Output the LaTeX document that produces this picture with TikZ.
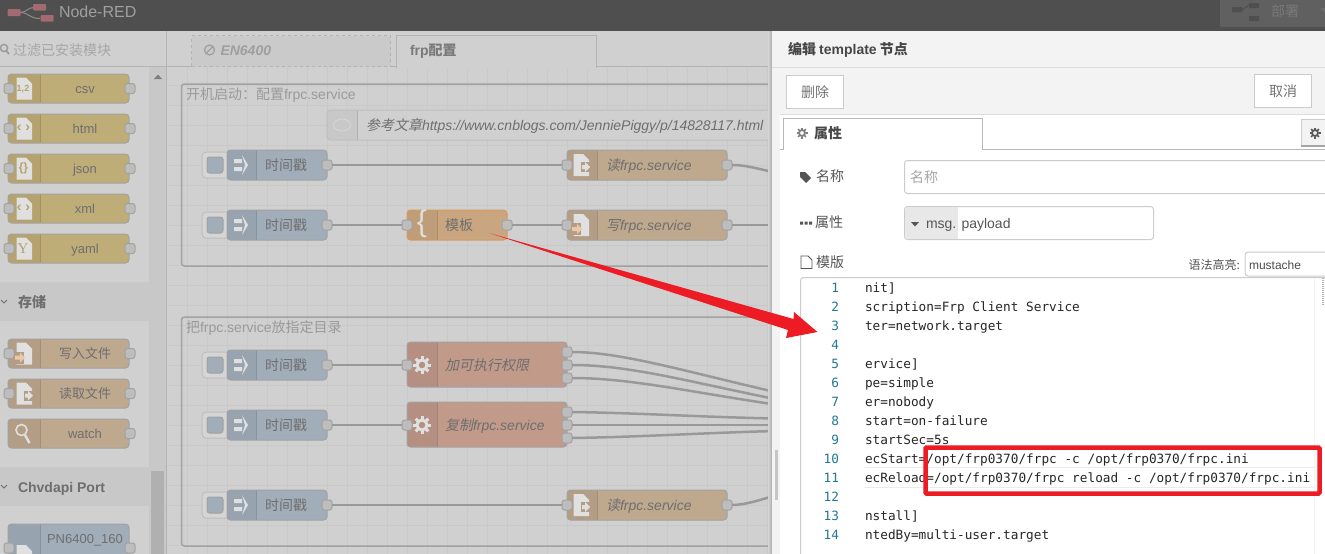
\documentclass[tikz,border=0pt]{standalone}
\usepackage{fontspec}
\setmainfont{Liberation Sans}
\newfontfamily\cjk{Noto Sans CJK SC}
\newfontfamily\cjki[FakeSlant=0.2]{Noto Sans CJK SC}
\newfontfamily\codef{DejaVu Sans Mono}
\newfontfamily\yser{Liberation Serif}
\definecolor{dimtext}{HTML}{6E6E6E}
\definecolor{canvasbg}{HTML}{D0D0D0}
\definecolor{gridc}{HTML}{C9C9C9}
\definecolor{headbg}{HTML}{4F4F4F}
\definecolor{catbg}{HTML}{C8C8C8}
\definecolor{linec}{HTML}{B4B4B4}
\definecolor{bordc}{HTML}{A2A2A2}
\definecolor{wirec}{HTML}{999999}
\definecolor{portc}{HTML}{BDBDBD}
\definecolor{yellowc}{HTML}{BFAD77}
\definecolor{yellowd}{HTML}{B5A26E}
\definecolor{tanc}{HTML}{BEA88E}
\definecolor{tand}{HTML}{B39D84}
\definecolor{bluec}{HTML}{A1ADB9}
\definecolor{blued}{HTML}{97A3AF}
\definecolor{salmc}{HTML}{C19A8A}
\definecolor{salmd}{HTML}{B59082}
\definecolor{orc}{HTML}{C9A67F}
\definecolor{ord}{HTML}{BE9D78}
\definecolor{orb}{HTML}{D99A5B}
\definecolor{iconc}{HTML}{E0E0E0}
\definecolor{redc}{HTML}{ED1C24}
\definecolor{numc}{HTML}{237893}
\definecolor{paneline}{HTML}{DDDDDD}
\definecolor{fieldline}{HTML}{CCCCCC}
\definecolor{paneltext}{HTML}{555555}
\definecolor{panelbg}{HTML}{F3F3F3}
\definecolor{logoc}{HTML}{A36A6F}
\definecolor{thumbc}{HTML}{B0B0B0}
\newcommand{\fsz}[1]{\fontsize{#1}{#1}\selectfont}
\tikzset{
  x=1pt,y=-1pt,
  every node/.style={inner sep=0pt,outer sep=0pt},
  tx/.style={text height=10pt,text depth=0pt},
  flow/.style={rounded corners=3.5pt,anchor=north west},
  portn/.style={draw=bordc,fill=portc,line width=1pt,rounded corners=2.5pt,minimum size=10pt},
  lab/.style={tx,text=dimtext,font=\fsz{14}},
  plab/.style={tx,text=dimtext,font=\fsz{13}},
  labl/.style={lab,anchor=west},
  grpframe/.style={draw=bordc,line width=1.5pt,rounded corners=3pt},
  wire/.style={draw=wirec,line width=2.5pt},
  grpl/.style={tx,anchor=west,text=bordc!95!black,font=\fsz{14}},
  fieldbox/.style={draw=fieldline,line width=1pt,fill=white,rounded corners=3pt},
  btn/.style={tx,draw=fieldline,line width=1pt,fill=white,anchor=north west,text=gray!90!black,font=\fsz{14}},
  codeline/.style={anchor=west,text height=11pt,text depth=0pt,text=black!85,font=\codef\fsz{12.75}},
  numline/.style={anchor=east,text height=11pt,text depth=0pt,text=numc,font=\codef\fsz{12.75}},
  ptxt/.style={tx,anchor=west,text=paneltext,font=\fsz{14}},
}
\newcommand{\fnode}[8]{%
  \node[flow,fill=#5,minimum width=#3pt,minimum height=#4pt] (#1) at (#2) {};
  \begin{scope}
    \clip [rounded corners=3.5pt] (#1.north west) rectangle (#1.south east);
    \fill[#6] (#1.north west) rectangle ([xshift=#7pt]#1.south west);
  \end{scope}
  \draw[black!15!#5,line width=.8pt] ([xshift=#7pt]#1.north west) -- ([xshift=#7pt]#1.south west);
  \draw[#8,line width=1pt,rounded corners=3.5pt] (#1.north west) rectangle (#1.south east);
}
\newcommand{\icdoc}[2]{\fill[iconc] (#1-7.5,#2-11) -- (#1+2,#2-11) -- (#1+8,#2-5) -- (#1+8,#2+11) -- (#1-7.5,#2+11) -- cycle;}
\newcommand{\icinject}[2]{%
  \fill[iconc] (#1-7,#2-6) -- (#1+1,#2-6) -- (#1+1,#2-2) -- (#1-7,#2-2) -- cycle (#1-7,#2+2) -- (#1+1,#2+2) -- (#1+1,#2+6) -- (#1-7,#2+6) -- cycle;
  \fill[iconc] (#1+1,#2-10) -- (#1+7,#2) -- (#1+1,#2+10) -- (#1+4,#2) -- cycle;}
\newcommand{\icgear}[2]{%
  \draw[iconc,line width=3pt] (#1,#2) circle (5);
  \foreach \a in {0,45,...,315} {\draw[iconc,line width=3pt] ([shift={(\a:6)}]#1,#2) -- ([shift={(\a:9)}]#1,#2);}}
\newcommand{\icsmallgear}[3]{%
  \draw[#3,line width=1.8pt] (#1,#2) circle (3);
  \foreach \a in {0,45,...,315} {\draw[#3,line width=1.5pt] ([shift={(\a:3.5)}]#1,#2) -- ([shift={(\a:5.5)}]#1,#2);}}
\newcommand{\icread}[3]{\icdoc{#1}{#2}\fill[#3] (#1,#2-3) rectangle (#1+9,#2+7);\fill[iconc] (#1+1,#2) -- (#1+4,#2) -- (#1+4,#2-3) -- (#1+9,#2+2) -- (#1+4,#2+7) -- (#1+4,#2+4) -- (#1+1,#2+4) -- cycle;}
\newcommand{\icwrite}[3]{\icdoc{#1}{#2}\fill[#3] (#1-10,#2-2) rectangle (#1,#2+10);\fill[iconc!75!orange] (#1-9,#2+2) -- (#1-4,#2+2) -- (#1-4,#2-1) -- (#1+1,#2+4) -- (#1-4,#2+9) -- (#1-4,#2+6) -- (#1-9,#2+6) -- cycle;}
\newcommand{\injnode}[2]{%
  \node[draw=bordc!70!white,fill=canvasbg!90!white,line width=1pt,rounded corners=4pt,minimum width=30pt,minimum height=26pt,anchor=west] (#1-btn) at (202,#2) {};
  \node[draw=bordc,fill=bluec,line width=1pt,rounded corners=2.5pt,minimum size=16pt] (#1-sq) at (215,#2) {};
  \fnode{#1}{227,#2-15}{100}{30}{bluec}{blued}{29}{bordc}
  \icinject{241}{#2}
  \node[lab] (#1-t) at (286,#2) {\cjk 时间戳};
  \node[portn] (#1-o) at (327,#2) {};
}
\newcommand{\palnode}[5]{%
  \fnode{#1}{8,#2-14.5}{121}{29}{#3}{#4}{32}{bordc}
  \node[plab] (#1-t) at (85,#2) {#5};
  \node[portn] (#1-o) at (130,#2) {};
}
\newcommand{\fileflow}[3]{%
  \fnode{#1}{567,#2-15}{160}{30}{tanc}{tand}{30}{bordc}
  \node[labl,font=\itshape\fsz{14}] (#1-t) at (606,#2) {#3};
  \node[portn] (#1-i) at (567,#2) {};
  \node[portn] (#1-o) at (727,#2) {};
}
\begin{document}
\begin{tikzpicture}
\useasboundingbox (0,0) rectangle (1325,554);
\fill[canvasbg] (0,0) rectangle (1325,554);
% ---------- canvas
\begin{scope}
  \clip (167,67) rectangle (771,554);
  \foreach \gx in {187,207,...,767} {\draw[gridc,line width=.8pt] (\gx,67) -- (\gx,554);}
  \foreach \gy in {85,105,...,545} {\draw[gridc,line width=.8pt] (167,\gy) -- (771,\gy);}
  \draw[grpframe] (181.5,84) rectangle (800,266);
  \node[grpl] (g1t) at (186,94) {{\cjk 开机启动：配置}frpc.service};
  \draw[grpframe] (181.5,317) rectangle (800,546);
  \node[grpl] (g2t) at (186,327) {{\cjk 把}frpc.service{\cjk 放指定目录}};
  % comment
  \fnode{cmt}{327,110}{470}{30}{canvasbg}{canvasbg!96!black}{30}{bordc!70!white}
  \draw[iconc!90!gray,line width=.9pt] (342,125) ellipse (8.5 and 6);
  \node[lab,anchor=west,font=\itshape\fsz{14}] (cmt-t) at (366,125) {{\cjki 参考文章}https://www.cnblogs.com/JenniePiggy/p/14828117.html};
  % row 1
  \injnode{i1}{165}
  \fileflow{r1}{165}{{\cjki 读}frpc.service}
  \icread{581}{165}{tand}
  % row 2
  \injnode{i2}{225}
  \fnode{tpl}{407,210}{100}{30}{orc}{ord}{30}{orb}
  \node[text=iconc,font=\fsz{30}] (tpl-ic) at (422,224) {\{};
  \node[labl] (tpl-t) at (445,225) {\cjk 模板};
  \node[portn] (tpl-i) at (407,225) {};
  \node[portn] (tpl-o) at (507,225) {};
  \fileflow{w1}{225}{{\cjki 写}frpc.service}
  \icwrite{581}{225}{tand}
  % exec nodes
  \injnode{i3}{365}
  \fnode{ex1}{407,342}{160}{45}{salmc}{salmd}{30}{bordc}
  \icgear{422}{365}
  \node[labl,font=\cjki\fsz{14}] (ex1-t) at (445,365) {加可执行权限};
  \node[portn] (ex1-i) at (407,365) {};
  \node[portn] (ex1-a) at (567,352) {};
  \node[portn] (ex1-b) at (567,365) {};
  \node[portn] (ex1-c) at (567,378) {};
  \injnode{i4}{425}
  \fnode{ex2}{407,402}{160}{45}{salmc}{salmd}{30}{bordc}
  \icgear{422}{425}
  \node[labl,font=\itshape\fsz{14}] (ex2-t) at (445,425) {{\cjki 复制}frpc.service};
  \node[portn] (ex2-i) at (407,425) {};
  \node[portn] (ex2-a) at (567,412) {};
  \node[portn] (ex2-b) at (567,425) {};
  \node[portn] (ex2-c) at (567,438) {};
  % row bottom
  \injnode{i5}{505}
  \fileflow{r2}{505}{{\cjki 读}frpc.service}
  \icread{581}{505}{tand}
  % free ends
  \coordinate (e1) at (775,172.5);
  \coordinate (e2) at (775,225);
  \coordinate (e3) at (775,392);
  \coordinate (e4) at (775,399);
  \coordinate (e5) at (775,404.5);
  \coordinate (e6) at (775,418.5);
  \coordinate (e7) at (775,425);
  \coordinate (e8) at (775,431);
  \coordinate (e9) at (775,495.5);
  % wires
  \draw[wire] (i1-o.east) -- (r1-i.west);
  \draw[wire] (i2-o.east) -- (tpl-i.west);
  \draw[wire] (tpl-o.east) -- (w1-i.west);
  \draw[wire] (i5-o.east) -- (r2-i.west);
  \draw[wire] (r1-o.east) .. controls (745,165) and (755,168) .. (e1);
  \draw[wire] (w1-o.east) -- (e2);
  \draw[wire] (ex1-a.east) .. controls (620,352) and (680,370) .. (e3);
  \draw[wire] (ex1-b.east) .. controls (630,365) and (690,382) .. (e4);
  \draw[wire] (ex1-c.east) .. controls (630,378) and (690,392) .. (e5);
  \draw[wire] (ex2-a.east) .. controls (640,413) and (700,417) .. (e6);
  \draw[wire] (ex2-b.east) -- (e7);
  \draw[wire] (ex2-c.east) .. controls (640,437) and (700,433) .. (e8);
  \draw[wire] (r2-o.east) .. controls (745,505) and (760,500) .. (e9);
  \draw[wire] (i3-o.east) -- (ex1-i.west);
  \draw[wire] (i4-o.east) -- (ex2-i.west);
\end{scope}
% ---------- sidebar
\fill[canvasbg] (0,67) rectangle (166,554);
\fill[catbg] (149,67) rectangle (166,554);
\fill[thumbc] (151,471) rectangle (164,554);
\fill[gray] (154,79) -- (158,74.5) -- (162,79) -- cycle;
\fill[catbg] (0,283) rectangle (149,321);
\draw[linec!70!white,line width=.8pt] (0,282.5) -- (149,282.5);
\fill[catbg] (0,468) rectangle (149,506);
\draw[linec!70!white,line width=.8pt] (0,467.5) -- (149,467.5);
\draw[dimtext,line width=.8pt] (1,300) -- (4,303) -- (7,300);
\draw[dimtext,line width=.8pt] (1,485) -- (4,488) -- (7,485);
\node[tx,anchor=west,text=dimtext,font=\cjk\bfseries\fsz{14}] (cat1) at (18,302) {存储};
\node[tx,anchor=west,text=dimtext,font=\bfseries\fsz{14}] (cat2) at (18,487) {Chvdapi Port};
\palnode{csv}{88.5}{yellowc}{yellowd}{csv}
\node[portn] (csv-i) at (9,88.5) {};
\icdoc{24}{88.5}
\node[text=yellowd,font=\bfseries\fsz{9}] (csv-ic) at (23,89) {1,2};
\palnode{html}{128.5}{yellowc}{yellowd}{html}
\node[portn] (html-i) at (9,128.5) {};
\icdoc{24}{128.5}
\node[text=yellowd,font=\bfseries\fsz{14}] (html-ic) at (23.5,128) {‹ ›};
\palnode{json}{168.5}{yellowc}{yellowd}{json}
\node[portn] (json-i) at (9,168.5) {};
\icdoc{24}{168.5}
\node[text=yellowd,font=\bfseries\fsz{12}] (json-ic) at (23.5,168) {\{\}};
\palnode{xml}{208.5}{yellowc}{yellowd}{xml}
\node[portn] (xml-i) at (9,208.5) {};
\icdoc{24}{208.5}
\node[text=yellowd,font=\bfseries\fsz{14}] (xml-ic) at (23.5,208) {‹ ›};
\palnode{yaml}{248.5}{yellowc}{yellowd}{yaml}
\node[portn] (yaml-i) at (9,248.5) {};
\icdoc{24}{248.5}
\node[text=yellowd,font=\yser\fsz{15}] (yaml-ic) at (23,249) {Y};
\palnode{wf}{353.5}{tanc}{tand}{\cjk 写入文件}
\node[portn] (wf-i) at (9,353.5) {};
\icwrite{24}{353.5}{tand}
\palnode{rf}{393.5}{tanc}{tand}{\cjk 读取文件}
\node[portn] (rf-i) at (9,393.5) {};
\icread{24}{393.5}{tand}
\palnode{wt}{433.5}{tanc}{tand}{watch}
\draw[iconc,line width=1.6pt] (21.5,430) circle (5.5);
\draw[iconc,line width=2.4pt] (25,435) -- (29.5,443);
\fnode{pn}{8,524}{121}{40}{bluec}{blued}{32}{bordc}
\node[plab] (pn-t) at (85,538) {PN6400\_160};
\icdoc{24}{556}
\node[portn] (pn-i) at (9,548) {};
\node[portn] (pn-o) at (130,548) {};
\draw[linec,line width=1pt] (166.5,31) -- (166.5,554);
% ---------- tab bar
\fill[canvasbg] (0,31) rectangle (771,66);
\draw[linec,line width=1pt] (0,66.5) -- (771,66.5);
\draw[linec,line width=1pt] (166.5,31) -- (166.5,66);
\draw[gray!80!white,line width=1.4pt] (4,48) circle (3.6);
\draw[gray!80!white,line width=1.6pt] (6.5,51) -- (9,54);
\node[tx,anchor=west,text=gray!70!white,font=\cjk\fsz{14}] (flt) at (13,50) {过滤已安装模块};
\node[draw=linec,dashed,line width=.8pt,fill=canvasbg!97!black,anchor=north west,minimum width=199pt,minimum height=31pt] (tab1) at (191.5,35.5) {};
\draw[gray!75!white,line width=1.3pt] (209.5,50) circle (5);
\draw[gray!75!white,line width=1.3pt] (206,53.5) -- (213,46.5);
\node[tx,anchor=west,text=gray!75!white,font=\bfseries\itshape\fsz{14}] (tab1t) at (220.5,50) {EN6400};
\node[draw=linec,line width=.8pt,fill=canvasbg,anchor=north west,minimum width=200pt,minimum height=31.5pt] (tab2) at (396.5,35.5) {};
\fill[canvasbg] (397.2,65.5) rectangle (596.1,67.6);
\node[tx,anchor=west,text=gray!95!black,font=\bfseries\fsz{14}] (tab2t) at (410,50) {frp{\cjk\bfseries 配置}};
% ---------- header
\fill[headbg] (0,0) rectangle (1325,31);
\draw[gray!90!white,line width=1pt] (20,12.5) .. controls (27,12.5) and (27,7.5) .. (34,7.5);
\draw[gray!90!white,line width=1pt] (20,12.5) .. controls (29,12.5) and (29,18.5) .. (40,18.5);
\node[fill=logoc,rounded corners=1pt,minimum width=13pt,minimum height=7pt,anchor=north west] (lg1) at (7.5,9) {};
\node[fill=logoc,rounded corners=1pt,minimum width=13pt,minimum height=6.5pt,anchor=north west] (lg2) at (33,4) {};
\node[fill=logoc,rounded corners=1pt,minimum width=13pt,minimum height=6.5pt,anchor=north west] (lg3) at (40.5,15) {};
\node[tx,anchor=west,text=gray!75!white,font=\fsz{16}] (brand) at (59,12.5) {Node-RED};
\fill[gray!75!black] (1220,0) rectangle (1325,26.5);
\fill[headbg] (1232,7) rectangle (1242,12) (1249,3) rectangle (1259,8) (1249,16) rectangle (1259,21);
\draw[headbg,line width=1pt] (1242,10) -- (1249,5);
\node[tx,anchor=west,text=gray!95!black,font=\cjk\fsz{14}] (dep) at (1271,11.5) {部署};
\fill[gray!85!black] (1320,8) -- (1325,8) -- (1325,13) -- cycle;
% ---------- panel
\fill[left color=canvasbg,right color=gray!65!white] (768.5,31) rectangle (772,554);
\fill[panelbg] (772,31) rectangle (1325,115);
\fill[panelbg] (772,115) rectangle (780,554);
\fill[white] (780,115) rectangle (1325,554);
\fill[gray!45!white] (775,450) rectangle (777.5,500);
\draw[paneline,line width=.8pt] (772,67.5) -- (1325,67.5);
\draw[paneline,line width=.8pt] (780,114.5) -- (1325,114.5);
\node[tx,anchor=west,text=black!72,font=\cjk\bfseries\fsz{14}] (ptitle) at (788,49) {编辑 {\bfseries\rmfamily template} 节点};
\node[btn,minimum width=57pt,minimum height=33pt] (del) at (786.5,75.5) {\cjk 删除};
\node[btn,minimum width=57pt,minimum height=33pt] (can) at (1254.5,74.5) {\cjk 取消};
% tab
\draw[fieldline!90!black,line width=1pt] (780,149.5) -- (783.5,149.5) -- (783.5,118.5) -- (982.5,118.5) -- (982.5,149.5) -- (1325,149.5);
\icsmallgear{802}{133}{gray}
\node[tx,anchor=west,text=black!72,font=\cjk\bfseries\fsz{14}] (ptab) at (814,133) {属性};
\fill[panelbg] (1301,119) rectangle (1325,146);
\draw[fieldline,line width=.8pt] (1301,146) -- (1301,119) -- (1325,119);
\draw[gray!70!white,line width=1.5pt] (1301,146) -- (1325,146);
\icsmallgear{1315}{133}{gray!70!black}
% name row
\fill[paneltext] (800,172) -- (805,172) -- (811,178) -- (806,183) -- (800,177) -- cycle;
\node[ptxt] (nm) at (816,176) {\cjk 名称};
\node[fieldbox,minimum width=440pt,minimum height=33pt,anchor=north west] (nmf) at (904.5,160.5) {};
\node[tx,anchor=west,text=gray!70!white,font=\cjk\fsz{14}] (nmp) at (910,177) {名称};
% prop row
\fill[paneltext] (800,221.5) rectangle (803,224.5) (804.5,221.5) rectangle (807.5,224.5) (809,221.5) rectangle (812,224.5);
\node[ptxt] (pr) at (815,222) {\cjk 属性};
\node[fieldbox,minimum width=249pt,minimum height=33pt,anchor=north west] (prf) at (904.5,206.5) {};
\begin{scope}
  \clip[rounded corners=3pt] (905,207) rectangle (1153,239);
  \fill[panelbg!90!gray] (905,207) rectangle (958,239);
\end{scope}
\fill[paneltext] (911,222) -- (919,222) -- (915,226.5) -- cycle;
\node[ptxt] (prm) at (926,223) {msg.};
\node[ptxt] (prv) at (961.5,223) {payload};
% template row
\draw[paneltext,line width=.9pt] (801,256) -- (808,256) -- (812,260) -- (812,268.5) -- (801,268.5) -- cycle;
\node[ptxt] (tp) at (816,262) {\cjk 模版};
\node[tx,anchor=east,text=paneltext,font=\cjk\fsz{12}] (hl) at (1240,264) {语法高亮:};
\node[fieldbox,minimum width=100pt,minimum height=24pt,anchor=north west] (hlf) at (1245,252) {};
\node[tx,anchor=west,text=black!70,font=\fsz{12}] (hlv) at (1249,264) {mustache};
% editor
\node[fieldbox,minimum width=560pt,minimum height=290pt,anchor=north west] (edt) at (800.5,277.5) {};
\draw[panelbg,line width=1pt] (1314.5,278) -- (1314.5,554);
\draw[gray!60!white,line width=1.5pt,dash pattern=on 1pt off 1pt] (1323,278) -- (1323,305);
\draw[black!8,line width=1pt] (865,467.5) -- (1314,467.5) (865,487) -- (1314,487);
\foreach \n/\yy in {1/287,2/306,3/325,4/344,5/363,6/382,7/401,8/420,9/439,10/458,11/477,12/496,13/515,14/534} {
  \node[numline] (ln\n) at (839,\yy) {\n};
}
\node[codeline] (c1) at (865,287) {nit]};
\node[codeline] (c2) at (865,306) {scription=Frp Client Service};
\node[codeline] (c3) at (865,325) {ter=network.target};
\node[codeline] (c5) at (865,363) {ervice]};
\node[codeline] (c6) at (865,382) {pe=simple};
\node[codeline] (c7) at (865,401) {er=nobody};
\node[codeline] (c8) at (865,420) {start=on-failure};
\node[codeline] (c9) at (865,439) {startSec=5s};
\node[codeline] (c10) at (865,458) {ecStart=/opt/frp0370/frpc -c /opt/frp0370/frpc.ini};
\node[codeline] (c11) at (865,477) {ecReload=/opt/frp0370/frpc reload -c /opt/frp0370/frpc.ini};
\node[codeline] (c13) at (865,515) {nstall]};
\node[codeline] (c14) at (865,534) {ntedBy=multi-user.target};
% ---------- annotations
\fill[redc] (489,233) -- (793.5,319) -- (794,312) -- (817.5,332) -- (786,338) -- (788,330) -- cycle;
\draw[redc,line width=4.5pt,rounded corners=1pt] (925.5,447.5) rectangle (1319.5,493.5);
\end{tikzpicture}
\end{document}
